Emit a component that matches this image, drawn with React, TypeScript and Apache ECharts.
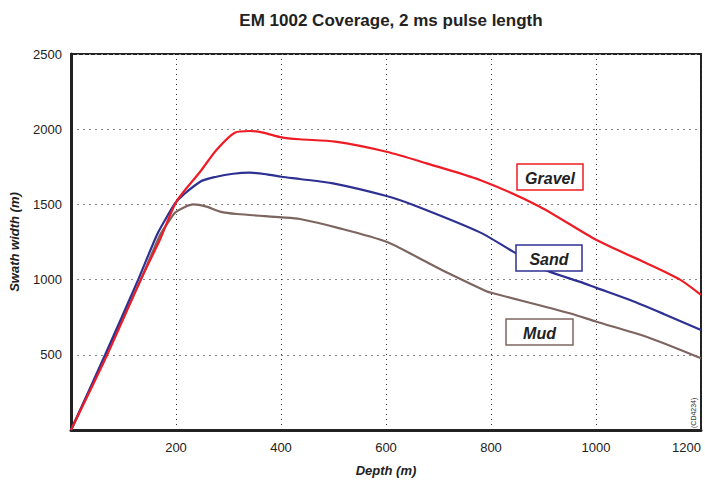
import React, { useEffect, useRef } from "react";
import * as echarts from "echarts";

const gravelX = [0, 69, 133, 170, 201, 246, 277, 312, 341, 366, 401, 436, 503, 601, 677, 779, 893, 1001, 1090, 1160, 1200];
const gravelY = [0, 500, 1000, 1270, 1520, 1717, 1862, 1977, 1988, 1977, 1946, 1933, 1917, 1850, 1773, 1662, 1485, 1263, 1119, 1000, 898];
const sandX = [0, 65, 128, 164, 183, 201, 246, 277, 309, 341, 373, 401, 436, 499, 601, 652, 779, 842, 906, 970, 1001, 1065, 1130, 1200];
const sandY = [0, 500, 1000, 1300, 1420, 1520, 1651, 1684, 1704, 1711, 1700, 1684, 1669, 1640, 1556, 1496, 1314, 1186, 1060, 985, 945, 864, 770, 665];
const mudX = [0, 67, 133, 170, 185, 200, 233, 258, 284, 316, 401, 436, 512, 601, 658, 720, 790, 804, 950, 1001, 1096, 1200];
const mudY = [0, 500, 1000, 1300, 1380, 1450, 1500, 1485, 1452, 1436, 1414, 1403, 1341, 1252, 1152, 1040, 925, 909, 776, 720, 620, 477];

const seriesNames = ["Gravel", "Sand", "Mud"];
const seriesColors = ["#ee1c25", "#2e3192", "#7d6560"];

const zip = (xs: number[], ys: number[]) => xs.map((x, i) => [x, ys[i]]);

export default function App() {
  const ref = useRef<HTMLDivElement>(null);
  useEffect(() => {
    if (!ref.current) return;
    const chart = echarts.init(ref.current, null, { renderer: "svg" });
    const font = "Liberation Sans, Arial, sans-serif";
    const datasets = [zip(gravelX, gravelY), zip(sandX, sandY), zip(mudX, mudY)];
    const boxes = [
      { x: 517, y: 164, w: 66, h: 26 },
      { x: 516, y: 245, w: 66, h: 26 },
      { x: 506, y: 319, w: 67, h: 26 },
    ];
    chart.setOption({
      animation: false,
      title: {
        text: "EM 1002 Coverage, 2 ms pulse length",
        left: 386,
        top: 7,
        textAlign: "center",
        textStyle: { fontFamily: font, fontSize: 17, fontWeight: "bold", color: "#222" },
      },
      grid: {
        left: 71, top: 54, right: 4, bottom: 51,
        outerBoundsMode: "none", containLabel: false,
        show: true, borderColor: "#222", borderWidth: 2, backgroundColor: "#fff",
      },
      xAxis: {
        type: "value",
        min: 0,
        max: 1200,
        interval: 200,
        name: "Depth (m)",
        nameLocation: "middle",
        nameGap: 34,
        nameTextStyle: { fontFamily: font, fontSize: 13, fontWeight: "bold", fontStyle: "italic", color: "#222" },
        axisLine: { show: true, lineStyle: { color: "#222", width: 3 } },
        axisTick: { show: false },
        axisLabel: {
          fontFamily: font, fontSize: 13, color: "#222", margin: 11,
          alignMaxLabel: "right",
          formatter: (v: number) => (v === 0 ? "" : String(v)),
        },
        splitLine: { show: true, lineStyle: { color: "#333", type: [1, 4], width: 1 } },
      },
      yAxis: {
        type: "value",
        min: 0,
        max: 2500,
        interval: 500,
        name: "Swath width (m)",
        nameLocation: "middle",
        nameGap: 50,
        nameRotate: 90,
        nameTextStyle: { fontFamily: font, fontSize: 13, fontWeight: "bold", fontStyle: "italic", color: "#222" },
        axisLine: { show: true, lineStyle: { color: "#222", width: 3 } },
        axisTick: { show: false },
        axisLabel: {
          fontFamily: font, fontSize: 13, color: "#222", margin: 9,
          formatter: (v: number) => (v === 0 ? "" : String(v)),
        },
        splitLine: { show: true, lineStyle: { color: "#888", type: [2, 4], width: 1.2 } },
      },
      series: seriesNames.map((name, i) => ({
        name,
        type: "line",
        data: datasets[i],
        smooth: 0.25,
        symbol: "none",
        lineStyle: { color: seriesColors[i], width: 2.2 },
        z: 5 - i,
      })),
      graphic: [
        ...boxes.map((b, i) => ({
          type: "group",
          children: [
            {
              type: "rect",
              shape: { x: b.x, y: b.y, width: b.w, height: b.h },
              style: { fill: "#fff", stroke: seriesColors[i], lineWidth: 1.5 },
              z: 10,
            },
            {
              type: "text",
              x: b.x + b.w / 2,
              y: b.y + b.h / 2 + 1,
              style: {
                text: seriesNames[i],
                fontFamily: font,
                fontSize: 16,
                fontWeight: "bold",
                fontStyle: "italic",
                fill: "#222",
                align: "center",
                verticalAlign: "middle",
              },
              z: 11,
            },
          ],
        })),
        {
          type: "text",
          x: 690,
          y: 428,
          rotation: Math.PI / 2,
          style: { text: "(CD4234)", fontFamily: font, fontSize: 7, fill: "#333", align: "left", verticalAlign: "top" },
          z: 11,
        },
      ],
    });
    return () => chart.dispose();
  }, []);
  return <div ref={ref} style={{ width: 705, height: 481, position: "absolute", left: 0, top: 0 }} />;
}
